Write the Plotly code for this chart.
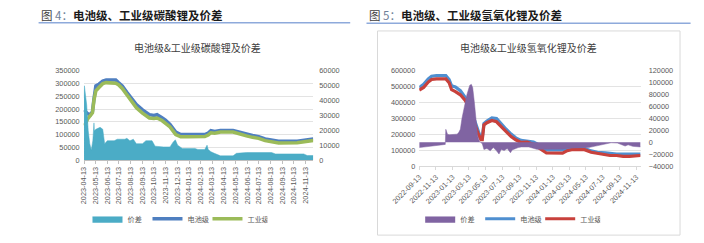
import plotly.graph_objects as go

W, H = 704, 243

# ---------------- Chart 4: lithium carbonate ----------------
dates_c = ["2023-04-13","2023-04-16","2023-04-22","2023-04-30","2023-05-05","2023-05-09","2023-05-14",
           "2023-05-22","2023-06-01","2023-06-10","2023-06-25","2023-07-05","2023-07-12","2023-07-22",
           "2023-08-03","2023-08-16","2023-08-28","2023-09-13","2023-10-01","2023-10-13","2023-10-21",
           "2023-11-03","2023-11-12","2023-11-24","2023-12-09","2023-12-22","2024-01-10","2024-02-23",
           "2024-03-03","2024-03-10","2024-03-20","2024-04-04","2024-05-07","2024-05-24","2024-06-11",
           "2024-06-27","2024-07-13","2024-07-30","2024-08-16","2024-09-03","2024-10-22","2024-11-08",
           "2024-12-03"]
batt_c = [197000,190000,182000,178000,190000,240000,291000,
          298000,310000,314000,315000,314000,304000,291000,
          266000,241000,218000,197000,178000,175000,178000,
          166000,157000,140000,110000,100000,100000,100000,
          106000,115000,112000,116000,116000,108000,102000,
          96000,92000,83000,77000,74000,74000,79000,
          83000]
ind_c = [146000,140000,160000,176000,185000,235000,272000,
         285000,300000,304000,304000,302000,296000,281000,
         256000,228000,205000,184000,165000,163000,165000,
         155000,146000,130000,100000,91000,91000,92000,
         98000,107000,105000,110000,110000,101000,95000,
         89000,85000,76000,70000,67000,68000,73000,
         77000]

diff_c_dates = ["2023-04-13","2023-04-14","2023-04-16","2023-04-20","2023-04-24","2023-04-28","2023-05-02",
                "2023-05-06","2023-05-09","2023-05-10","2023-05-14","2023-05-25","2023-06-01","2023-06-03",
                "2023-06-06","2023-06-13","2023-07-01","2023-07-09","2023-07-29","2023-08-03","2023-08-11",
                "2023-08-20","2023-08-28","2023-09-13","2023-09-22","2023-10-08","2023-10-16","2023-11-07",
                "2023-11-24","2023-12-02","2023-12-08","2023-12-14","2023-12-26","2024-01-28","2024-02-05",
                "2024-02-23","2024-02-29","2024-03-03","2024-03-10","2024-03-19","2024-04-04","2024-05-07",
                "2024-05-16","2024-06-11","2024-08-16","2024-08-26","2024-11-08","2024-11-17","2024-12-03"]
diff_c = [42000,50000,45600,37000,19700,11000,6700,
          13000,25000,19700,20700,22000,20700,17500,
          11000,13000,13000,14000,14000,14600,13000,
          14000,11000,11000,13000,13000,9300,8800,
          8800,12000,13600,10000,7800,7800,7100,
          7100,10000,7100,5600,4500,2800,2800,
          4500,5000,5000,4100,4100,3000,3000]

# ---------------- Chart 5: lithium hydroxide ----------------
dates_h = ["2022-09-13","2022-09-29","2022-10-16","2022-10-28","2022-11-15","2022-12-19","2022-12-31",
           "2023-01-09","2023-01-23","2023-02-10","2023-02-27","2023-03-10","2023-03-21","2023-04-02",
           "2023-04-14","2023-04-26","2023-05-01","2023-05-07","2023-05-18","2023-06-05","2023-06-22",
           "2023-07-10","2023-07-27","2023-08-14","2023-08-31","2023-09-19","2023-10-12","2023-11-04",
           "2023-11-22","2023-12-09","2023-12-21","2024-02-18","2024-03-06","2024-03-22","2024-05-08",
           "2024-06-01","2024-06-24","2024-07-23","2024-08-09","2024-09-02","2024-09-26","2024-10-19",
           "2024-11-28"]
batt_h = [493000,513000,547000,564000,568000,568000,543000,
          503000,497000,473000,433000,403000,352000,292000,
          231000,171000,177000,266000,282000,302000,298000,
          262000,231000,201000,177000,161000,158000,150000,
          134000,112000,101000,101000,111000,111000,111000,
          95000,86600,82500,78000,74500,74500,74500,
          74500]
ind_h = [477000,493000,527000,543000,547000,547000,523000,
         479000,467000,447000,413000,382000,332000,266000,
         211000,165000,165000,258000,272000,286000,278000,
         246000,217000,185000,165000,149000,150000,136000,
         115000,93000,82000,81000,96600,103000,103000,
         86600,78500,70500,66400,66400,60400,60400,
         66400]

diff_h_dates = ["2022-09-13","2022-10-23","2022-12-08","2022-12-17","2022-12-19","2022-12-25","2022-12-31",
                "2023-01-15","2023-01-29","2023-02-04","2023-02-10","2023-02-16","2023-02-21","2023-02-27",
                "2023-03-05","2023-03-11","2023-03-16","2023-03-22","2023-03-27","2023-04-02","2023-04-08",
                "2023-04-14","2023-04-20","2023-04-26","2023-05-01","2023-05-07","2023-05-18","2023-05-30",
                "2023-06-10","2023-06-22","2023-07-01","2023-07-09","2023-07-20","2023-07-31","2023-08-12",
                "2023-08-18","2023-08-29","2023-09-09","2023-09-20","2023-10-18","2023-11-16","2024-01-07",
                "2024-02-18","2024-03-12","2024-05-08","2024-05-23","2024-06-13","2024-07-05","2024-07-28",
                "2024-08-13","2024-09-05","2024-09-22","2024-10-03","2024-10-14","2024-10-31","2024-11-28"]
diff_h = [-9100,-7000,-5400,-3800,21500,13400,12300,
          13400,13400,16000,21500,40000,53700,64400,
          77900,88600,95000,96700,91300,67000,35000,
          10700,1600,0,-2700,-12300,-10700,-14500,
          -9100,-14500,-19900,-12300,-14000,-10700,-17700,
          -13000,-10700,-9100,-8000,-8000,-12000,-11800,
          -11800,-10000,-9000,-9000,-7000,-5000,-2500,
          -1000,-1500,-4000,-6500,-4500,-7000,-8000]

names = ["价差", "电池级", "工业级"]

TICKFONT = dict(family="Liberation Sans, Arial, sans-serif", size=7.3, color="#595959")
CJK = "Noto Sans CJK SC, sans-serif"

fig = go.Figure()

# Chart 4 traces
fig.add_trace(go.Scatter(x=diff_c_dates, y=diff_c, name=names[0], mode="lines", fill="tozeroy",
                         line=dict(color="#4bacc6", width=0.5), fillcolor="#4bacc6",
                         xaxis="x", yaxis="y2", legend="legend"))
fig.add_trace(go.Scatter(x=dates_c, y=batt_c, name=names[1], mode="lines",
                         line=dict(color="#4f7fc0", width=3.5), xaxis="x", yaxis="y", legend="legend"))
fig.add_trace(go.Scatter(x=dates_c, y=ind_c, name=names[2], mode="lines",
                         line=dict(color="#9bbb59", width=3.5), xaxis="x", yaxis="y", legend="legend"))

# Chart 5 traces
fig.add_trace(go.Scatter(x=diff_h_dates, y=diff_h, name=names[0], mode="lines", fill="tozeroy",
                         line=dict(color="#8064a2", width=0.5), fillcolor="#8064a2",
                         xaxis="x2", yaxis="y4", legend="legend2"))
fig.add_trace(go.Scatter(x=dates_h, y=batt_h, name=names[1], mode="lines",
                         line=dict(color="#4f8fd0", width=3.2), xaxis="x2", yaxis="y3", legend="legend2"))
fig.add_trace(go.Scatter(x=dates_h, y=ind_h, name=names[2], mode="lines",
                         line=dict(color="#c8413c", width=3.2), xaxis="x2", yaxis="y3", legend="legend2"))

def px_x(v):
    return v / W

def px_y(v):
    return 1 - v / H

LEGFONT = dict(family=CJK, size=7.2, color="#595959")

fig.update_layout(
    width=W, height=H, margin=dict(l=0, r=0, t=0, b=0),
    paper_bgcolor="white", plot_bgcolor="white",
    font=dict(family=CJK, size=8, color="#404040"),
    xaxis=dict(domain=[px_x(57), px_x(296.5)], anchor="y", type="date",
               range=["2023-04-12", "2024-12-03"],
               tick0="2023-04-13", dtick="M1", tickformat="%Y-%m-%d", tickangle=-90,
               tickfont=TICKFONT, showgrid=False, showline=True, linecolor="#bfbfbf",
               ticks="outside", ticklen=3, tickcolor="#bfbfbf", zeroline=False),
    yaxis=dict(domain=[px_y(162), px_y(69.5)], anchor="x", range=[0, 350000], dtick=50000,
               tickformat="d", tickfont=TICKFONT, showgrid=True, gridcolor="#e3e3e3",
               zeroline=False, showline=False, ticklabelstandoff=3),
    yaxis2=dict(overlaying="y", anchor="x", side="right", range=[0, 60000], dtick=10000,
                tickformat="d", tickfont=TICKFONT, showgrid=False, zeroline=False,
                showline=False, ticklabelstandoff=5),
    xaxis2=dict(domain=[px_x(407), px_x(638)], anchor="y3", type="date",
                range=["2022-09-13", "2024-11-29"],
                tick0="2022-09-13", dtick="M2", tickformat="%Y-%m-%d", tickangle=-45,
                tickfont=TICKFONT, showgrid=False, showline=True, linecolor="#d9d9d9",
                ticks="outside", ticklen=3, tickcolor="#d9d9d9", zeroline=False),
    yaxis3=dict(domain=[px_y(168.3), px_y(69)], anchor="x2", range=[0, 600000], dtick=100000,
                tickformat="d", tickfont=TICKFONT, showgrid=True, gridcolor="#e3e3e3",
                zeroline=False, showline=False, ticklabelstandoff=3),
    yaxis4=dict(overlaying="y3", anchor="x2", side="right", range=[-40000, 120000], dtick=20000,
                tickformat="d", tickfont=TICKFONT, showgrid=False, zeroline=False,
                showline=False, ticklabelstandoff=7),
    legend=dict(orientation="h", x=px_x(61), xanchor="left", y=px_y(223), yanchor="middle",
                font=LEGFONT, bgcolor="rgba(0,0,0,0)", itemwidth=30, traceorder="normal",
                entrywidth=15, entrywidthmode="pixels"),
    legend2=dict(orientation="h", x=px_x(408), xanchor="left", y=px_y(223), yanchor="middle",
                 font=LEGFONT, bgcolor="rgba(0,0,0,0)", itemwidth=30, traceorder="normal",
                 entrywidth=15, entrywidthmode="pixels"),
    showlegend=True,
)

fig.add_annotation(x=px_x(10), y=px_y(11), xref="paper", yref="paper", xanchor="left", yanchor="middle",
                   showarrow=False,
                   text='<span style="color:#404040">图 </span><span style="color:#6f7f99">4：</span><b>电池级、工业级碳酸锂及价差</b>',
                   font=dict(family=CJK, size=11.5, color="#1a1a1a"))
fig.add_annotation(x=px_x(352), y=px_y(11), xref="paper", yref="paper", xanchor="left", yanchor="middle",
                   showarrow=False,
                   text='<span style="color:#404040">图 </span><span style="color:#6f7f99">5：</span><b>电池级、工业级氢氧化锂及价差</b>',
                   font=dict(family=CJK, size=11.5, color="#1a1a1a"))
fig.add_annotation(x=px_x(175.5), y=px_y(45), xref="paper", yref="paper", xanchor="center", yanchor="middle",
                   showarrow=False, text="电池级&工业级碳酸锂及价差",
                   font=dict(family=CJK, size=10, color="#404040"))
fig.add_annotation(x=px_x(520.5), y=px_y(45), xref="paper", yref="paper", xanchor="center", yanchor="middle",
                   showarrow=False, text="电池级&工业级氢氧化锂及价差",
                   font=dict(family=CJK, size=10, color="#404040"))

fig.add_shape(type="line", xref="paper", yref="paper", x0=px_x(10), x1=px_x(335),
              y0=px_y(19.5), y1=px_y(19.5), line=dict(color="#8eaadb", width=1.5))
fig.add_shape(type="line", xref="paper", yref="paper", x0=px_x(352), x1=px_x(690),
              y0=px_y(20), y1=px_y(20), line=dict(color="#8eaadb", width=1.5))
fig.add_shape(type="rect", xref="paper", yref="paper", x0=px_x(363.5), x1=px_x(679),
              y0=px_y(240), y1=px_y(28), line=dict(color="#d9d9d9", width=1))

fig.write_html("out.html")
